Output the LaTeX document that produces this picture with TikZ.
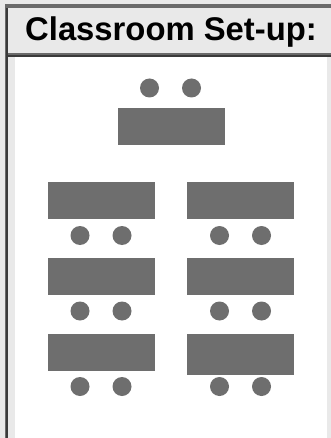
\documentclass[tikz,border=0pt]{standalone}
\usepackage{fontspec}
\setmainfont{Liberation Sans}
\definecolor{band}{HTML}{E9E9E9}
\definecolor{shape}{HTML}{6E6E6E}
\definecolor{edge}{HTML}{6A6A6A}
\definecolor{dark}{HTML}{3A3A3A}
\tikzset{
  desk/.style={fill=shape,draw=none,rectangle,minimum width=107pt,minimum height=37.5pt,inner sep=0pt,outer sep=0pt},
  seat/.style={fill=shape,draw=none,circle,minimum size=19pt,inner sep=0pt,outer sep=0pt},
}
\begin{document}
\begin{tikzpicture}[x=1pt,y=-1pt]
\useasboundingbox (0,0) rectangle (331,438);
\fill[band] (0,0) rectangle (331,438);
\fill[white] (15,57) rectangle (327,438);
\fill[edge] (5,4) rectangle (331,8);
\fill[edge] (5,4) rectangle (8,438);
\fill[dark] (6,8) rectangle (8,438);
\fill[edge] (8,53) rectangle (331,55);
\fill[dark] (8,55) rectangle (331,57);
\node[font=\bfseries,scale=3.28,anchor=base,inner sep=0pt] (title) at (171,41) {Classroom Set-up:};
\node[seat] (s1) at (149.5,88) {};
\node[seat] (s2) at (191.5,88) {};
\node[desk] (d0) at (171,126.5) {};
\node[desk] (d1) at (101,200.5) {};
\node[desk] (d2) at (240.5,200.5) {};
\node[seat] (s3) at (80,235.5) {};
\node[seat] (s4) at (122,235.5) {};
\node[seat] (s5) at (219.5,235.5) {};
\node[seat] (s6) at (261.5,235.5) {};
\node[desk] (d3) at (101,276.5) {};
\node[desk] (d4) at (240.5,276.5) {};
\node[seat] (s7) at (80,311) {};
\node[seat] (s8) at (122,311) {};
\node[seat] (s9) at (219.5,311) {};
\node[seat] (s10) at (261.5,311) {};
\node[desk] (d5) at (101,352.5) {};
\node[desk,minimum height=41.5pt] (d6) at (240.5,354.5) {};
\node[seat] (s11) at (80,386.5) {};
\node[seat] (s12) at (122,386.5) {};
\node[seat] (s13) at (219.5,386.5) {};
\node[seat] (s14) at (261.5,386.5) {};
\end{tikzpicture}
\end{document}
